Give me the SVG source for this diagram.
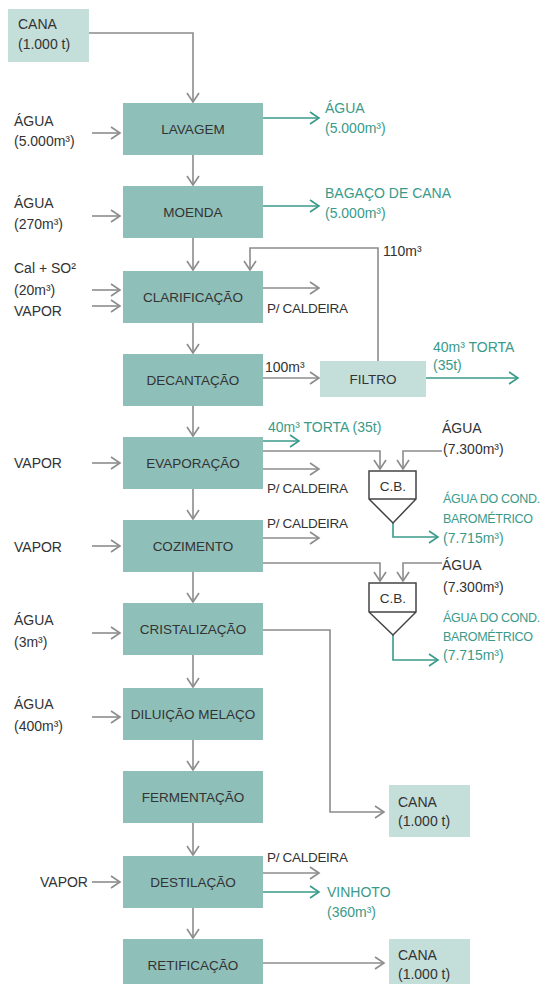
<svg xmlns="http://www.w3.org/2000/svg" width="547" height="984" viewBox="0 0 547 984">
<style>
text{font-family:"Liberation Sans",Arial,sans-serif;font-size:14px;fill:#333}
.bt{text-anchor:middle;font-size:13.5px}
.g{fill:#3a9a8a}
.n{font-size:13.5px;letter-spacing:-0.3px}
.s{font-size:12.5px;letter-spacing:-0.3px}
.box{fill:#8fbfb9}
.lbox{fill:#c4ded9}
.ln{fill:none;stroke:#8c8c8c;stroke-width:1.6}
.gl{fill:none;stroke:#3a9a8a;stroke-width:1.6}
.cb{fill:#fff;stroke:#444;stroke-width:1.5}
</style>
<defs>
<marker id="ag" markerUnits="userSpaceOnUse" markerWidth="12" markerHeight="14" refX="10" refY="7" orient="auto"><path d="M1,1 L10,7 L1,13" fill="none" stroke="#8c8c8c" stroke-width="1.6"/></marker>
<marker id="at" markerUnits="userSpaceOnUse" markerWidth="12" markerHeight="14" refX="10" refY="7" orient="auto"><path d="M1,1 L10,7 L1,13" fill="none" stroke="#3a9a8a" stroke-width="1.6"/></marker>
</defs>
<g id="connectors">
<path class="ln" d="M89,33 H193 V102" marker-end="url(#ag)"/>
<path class="ln" d="M193,155 V185" marker-end="url(#ag)"/>
<path class="ln" d="M193,238 V270" marker-end="url(#ag)"/>
<path class="ln" d="M193,323 V353" marker-end="url(#ag)"/>
<path class="ln" d="M193,406 V436" marker-end="url(#ag)"/>
<path class="ln" d="M193,489 V519" marker-end="url(#ag)"/>
<path class="ln" d="M193,572 V602" marker-end="url(#ag)"/>
<path class="ln" d="M193,655 V687" marker-end="url(#ag)"/>
<path class="ln" d="M193,740 V770" marker-end="url(#ag)"/>
<path class="ln" d="M193,823 V855" marker-end="url(#ag)"/>
<path class="ln" d="M193,908 V938" marker-end="url(#ag)"/>
<path class="ln" d="M92,133 H120" marker-end="url(#ag)"/>
<path class="ln" d="M92,216 H120" marker-end="url(#ag)"/>
<path class="ln" d="M92,290 H120" marker-end="url(#ag)"/>
<path class="ln" d="M92,306 H120" marker-end="url(#ag)"/>
<path class="ln" d="M92,463 H120" marker-end="url(#ag)"/>
<path class="ln" d="M92,546 H120" marker-end="url(#ag)"/>
<path class="ln" d="M92,633 H120" marker-end="url(#ag)"/>
<path class="ln" d="M92,717 H120" marker-end="url(#ag)"/>
<path class="ln" d="M92,882 H120" marker-end="url(#ag)"/>
<path class="gl" d="M263,118 H319" marker-end="url(#at)"/>
<path class="gl" d="M263,206 H319" marker-end="url(#at)"/>
<path class="ln" d="M378,361 V248 H250 V270" marker-end="url(#ag)"/>
<path class="ln" d="M263,288 H319" marker-end="url(#ag)"/>
<path class="ln" d="M263,378 H319" marker-end="url(#ag)"/>
<path class="gl" d="M426,378 H518" marker-end="url(#at)"/>
<path class="gl" d="M263,441 H299" marker-end="url(#at)"/>
<path class="ln" d="M263,451 H380 V469" marker-end="url(#ag)"/>
<path class="ln" d="M442,451 H403 V469" marker-end="url(#ag)"/>
<path class="ln" d="M263,469 H319" marker-end="url(#ag)"/>
<path class="gl" d="M393,523 V537 H438" marker-end="url(#at)"/>
<path class="ln" d="M263,538 H319" marker-end="url(#ag)"/>
<path class="ln" d="M263,563 H380 V581" marker-end="url(#ag)"/>
<path class="ln" d="M442,563 H403 V581" marker-end="url(#ag)"/>
<path class="gl" d="M393,635 V660 H438" marker-end="url(#at)"/>
<path class="ln" d="M263,630 H330 V812 H384" marker-end="url(#ag)"/>
<path class="ln" d="M263,873 H319" marker-end="url(#ag)"/>
<path class="gl" d="M263,892 H319" marker-end="url(#at)"/>
<path class="ln" d="M263,963 H384" marker-end="url(#ag)"/>
</g>
<g id="cana-in"><rect class="lbox" x="8" y="9" width="81" height="53"/><text x="18" y="29">CANA</text><text x="18" y="49">(1.000 t)</text></g>
<g id="lavagem"><rect class="box" x="123" y="103" width="140" height="52"/><text class="bt" x="193" y="134">LAVAGEM</text></g>
<g id="moenda"><rect class="box" x="123" y="186" width="140" height="52"/><text class="bt" x="193" y="217">MOENDA</text></g>
<g id="clarificacao"><rect class="box" x="123" y="271" width="140" height="52"/><text class="bt" x="193" y="302">CLARIFICAÇÃO</text></g>
<g id="decantacao"><rect class="box" x="123" y="354" width="140" height="52"/><text class="bt" x="193" y="385">DECANTAÇÃO</text></g>
<g id="evaporacao"><rect class="box" x="123" y="437" width="140" height="52"/><text class="bt" x="193" y="468">EVAPORAÇÃO</text></g>
<g id="cozimento"><rect class="box" x="123" y="520" width="140" height="52"/><text class="bt" x="193" y="551">COZIMENTO</text></g>
<g id="cristalizacao"><rect class="box" x="123" y="603" width="140" height="52"/><text class="bt" x="193" y="634">CRISTALIZAÇÃO</text></g>
<g id="diluicao"><rect class="box" x="123" y="688" width="140" height="52"/><text class="bt" x="193" y="719">DILUIÇÃO MELAÇO</text></g>
<g id="fermentacao"><rect class="box" x="123" y="771" width="140" height="52"/><text class="bt" x="193" y="802">FERMENTAÇÃO</text></g>
<g id="destilacao"><rect class="box" x="123" y="856" width="140" height="52"/><text class="bt" x="193" y="887">DESTILAÇÃO</text></g>
<g id="retificacao"><rect class="box" x="123" y="939" width="140" height="52"/><text class="bt" x="193" y="970">RETIFICAÇÃO</text></g>
<g id="filtro"><rect class="lbox" x="320" y="361" width="106" height="36"/><text class="bt" x="373" y="384">FILTRO</text></g>
<g id="cb1"><path class="cb" d="M369,471 H416 V499 L393,523 L369,499 Z M369,499 H416"/><text class="bt" x="393" y="491">C.B.</text></g>
<g id="cb2"><path class="cb" d="M369,583 H416 V612 L393,635 L369,612 Z M369,612 H416"/><text class="bt" x="393" y="603">C.B.</text></g>
<g id="cana-out1"><rect class="lbox" x="389" y="785" width="81" height="52"/><text x="398" y="807">CANA</text><text x="398" y="826">(1.000 t)</text></g>
<g id="cana-out2"><rect class="lbox" x="389" y="939" width="81" height="52"/><text x="398" y="960">CANA</text><text x="398" y="979">(1.000 t)</text></g>
<g id="labels">
<text x="14" y="126">ÁGUA</text><text x="14" y="146">(5.000m³)</text>
<text x="14" y="208">ÁGUA</text><text x="14" y="229">(270m³)</text>
<text x="14" y="273">Cal + SO²</text><text x="14" y="295">(20m³)</text><text x="14" y="316">VAPOR</text>
<text x="14" y="468">VAPOR</text>
<text x="14" y="552">VAPOR</text>
<text x="14" y="625">ÁGUA</text><text x="14" y="647">(3m³)</text>
<text x="14" y="709">ÁGUA</text><text x="14" y="731">(400m³)</text>
<text x="40" y="887">VAPOR</text>
<text class="g" x="325" y="113">ÁGUA</text><text class="g" x="325" y="133">(5.000m³)</text>
<text class="g" x="325" y="198">BAGAÇO DE CANA</text><text class="g" x="325" y="218">(5.000m³)</text>
<text x="383" y="256">110m³</text>
<text class="n" x="267" y="313">P/ CALDEIRA</text>
<text x="265" y="372">100m³</text>
<text class="g" x="433" y="352">40m³ TORTA</text><text class="g" x="433" y="370">(35t)</text>
<text class="g" x="268" y="432">40m³ TORTA (35t)</text>
<text x="442" y="433">ÁGUA</text><text x="443" y="454">(7.300m³)</text>
<text class="n" x="267" y="493">P/ CALDEIRA</text>
<text class="g s" x="443" y="503">ÁGUA DO COND.</text><text class="g s" x="443" y="523">BAROMÉTRICO</text><text class="g" x="443" y="543">(7.715m³)</text>
<text class="n" x="267" y="528">P/ CALDEIRA</text>
<text x="442" y="570">ÁGUA</text><text x="443" y="592">(7.300m³)</text>
<text class="g s" x="443" y="622">ÁGUA DO COND.</text><text class="g s" x="443" y="641">BAROMÉTRICO</text><text class="g" x="443" y="660">(7.715m³)</text>
<text class="n" x="267" y="862">P/ CALDEIRA</text>
<text class="g" x="327" y="897">VINHOTO</text><text class="g" x="327" y="917">(360m³)</text>
</g>
</svg>
